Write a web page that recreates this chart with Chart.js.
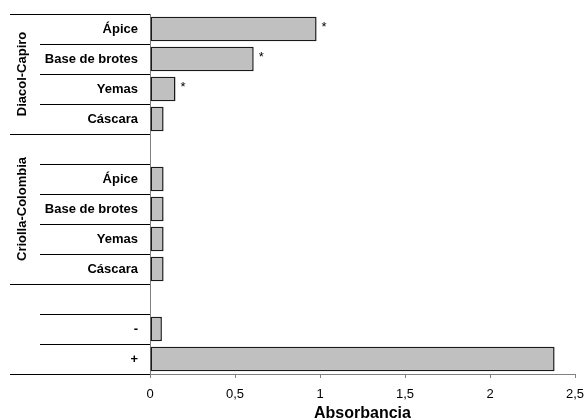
<!DOCTYPE html>
<html>
<head>
<meta charset="utf-8">
<script src="https://cdn.jsdelivr.net/npm/chart.js@4/dist/chart.umd.min.js"></script>
<style>
  html, body { margin: 0; padding: 0; background: #fff; }
  canvas { display: block; }
</style>
</head>
<body>
<canvas id="c" width="585" height="419"></canvas>
<script>
// Data
const categories = ['Ápice', 'Base de brotes', 'Yemas', 'Cáscara', '', 'Ápice', 'Base de brotes', 'Yemas', 'Cáscara', '', '-', '+'];
const values = [0.98, 0.61, 0.15, 0.08, null, 0.08, 0.08, 0.08, 0.08, null, 0.07, 2.38];
const marks = ['*', '*', '*', '', '', '', '', '', '', '', '', ''];
const groupNames = ['Diacol-Capiro', 'Criolla-Colombia', ''];
const groupSizes = [4, 5, 3];
const xTicks = [0, 0.5, 1, 1.5, 2, 2.5];

const FONT = "'Liberation Sans', Arial, sans-serif";

const groupPlugin = {
  id: 'groups',
  afterDraw(chart) {
    const ctx = chart.ctx;
    const y = chart.scales.y;
    const x = chart.scales.x;
    const axisX = chart.chartArea.left;
    ctx.save();
    // separator lines
    const groupBounds = new Set();
    let acc = 0;
    groupBounds.add(0);
    groupSizes.forEach(s => { acc += s; groupBounds.add(acc); });
    ctx.strokeStyle = '#000';
    ctx.lineWidth = 1;
    for (let b = 0; b <= categories.length; b++) {
      const py = Math.round(y.getPixelForValue(b - 0.5)) + 0.5;
      const startX = groupBounds.has(b) ? 10 : 40;
      ctx.beginPath();
      ctx.moveTo(startX, py);
      ctx.lineTo(axisX, py);
      ctx.stroke();
    }
    // group labels
    ctx.fillStyle = '#000';
    ctx.font = 'bold 13px ' + FONT;
    ctx.textAlign = 'center';
    ctx.textBaseline = 'middle';
    let start = 0;
    groupNames.forEach((name, gi) => {
      const end = start + groupSizes[gi];
      const top = y.getPixelForValue(start - 0.5);
      const bot = y.getPixelForValue(end - 0.5);
      const cy = (top + bot) / 2;
      if (name) {
        ctx.save();
        ctx.translate(22, cy);
        ctx.rotate(-Math.PI / 2);
        ctx.fillText(name, 0, 0);
        ctx.restore();
      }
      start = end;
    });
    // asterisks
    ctx.font = '13px ' + FONT;
    ctx.textAlign = 'center';
    ctx.textBaseline = 'alphabetic';
    marks.forEach((m, i) => {
      if (!m || values[i] == null) return;
      const px = x.getPixelForValue(values[i]);
      const py = y.getPixelForValue(i);
      ctx.fillText(m, px + 7.5, py + 2);
    });
    ctx.restore();
  }
};

new Chart(document.getElementById('c'), {
  type: 'bar',
  data: {
    labels: categories,
    datasets: [{
      data: values,
      backgroundColor: '#c0c0c0',
      borderColor: '#1a1a1a',
      borderWidth: 1.5,
      borderSkipped: false,
      barPercentage: 0.82,
      categoryPercentage: 1.0
    }]
  },
  options: {
    indexAxis: 'y',
    responsive: false,
    animation: false,
    devicePixelRatio: 1,
    layout: { padding: { top: 14, right: 10, left: 0, bottom: 0 } },
    plugins: { legend: { display: false }, tooltip: { enabled: false } },
    scales: {
      y: {
        type: 'category',
        grid: { display: false, drawTicks: false },
        border: { display: true, color: '#808080', width: 1 },
        ticks: {
          autoSkip: false,
          padding: 12,
          color: '#000',
          font: { family: FONT, size: 13, weight: 'bold' }
        },
        afterFit(scale) {
          scale.width = 150;
          scale.paddingTop = 0; scale.paddingBottom = 0;
        }
      },
      x: {
        min: 0,
        max: 2.5,
        grid: { display: true, drawOnChartArea: false, drawTicks: true, tickLength: 4, color: '#808080' },
        border: { display: true, color: '#808080', width: 1 },
        afterBuildTicks(scale) { scale.ticks = xTicks.map(v => ({ value: v })); },
        ticks: {
          padding: 9,
          color: '#000',
          font: { family: FONT, size: 13 },
          callback: v => String(v).replace('.', ',')
        },
        title: {
          display: true,
          text: 'Absorbancia',
          color: '#000',
          font: { family: FONT, size: 16, weight: 'bold', lineHeight: 1 },
          padding: { top: 0, bottom: -3 }
        },
        afterFit(scale) {
          scale.height = 45;
          scale.paddingLeft = 0; scale.paddingRight = 0;
        }
      }
    }
  },
  plugins: [groupPlugin]
});
</script>
</body>
</html>
